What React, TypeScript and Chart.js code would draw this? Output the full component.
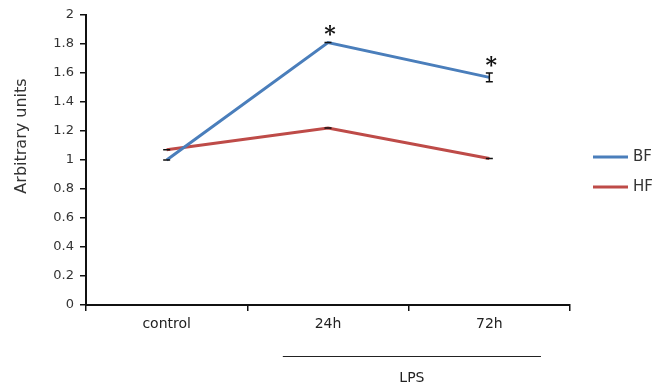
import React, { useEffect, useRef } from "react";
import { Chart, registerables } from "chart.js";

Chart.register(...registerables);

const categories = ["control", "24h", "72h"];
const seriesNames = ["BF", "HF"];
const bfValues = [1.0, 1.81, 1.57];
const hfValues = [1.07, 1.22, 1.01];
const bfErrors = [0, 0, 0.03];
const hfErrors = [0, 0, 0];
const bfMarks = ["", "*", "*"];
const hfMarks = ["", "", ""];
const yTickLabels = ["0", "0.2", "0.4", "0.6", "0.8", "1", "1.2", "1.4", "1.6", "1.8", "2"];
const yTitle = "Arbitrary units";
const groupLabel = "LPS";
const groupRange = [0.72, 2.32];

const FONT = "'DejaVu Sans', Verdana, sans-serif";
const BLUE = "#4A7EBB";
const RED = "#BE4B48";

const extras = {
  id: "extras",
  afterDatasetsDraw(chart: any) {
    const ctx = chart.ctx;
    const x = chart.scales.x;
    const y = chart.scales.y;
    chart.data.datasets.forEach((ds: any) => {
      const errs: number[] = ds.errors;
      const marks: string[] = ds.marks;
      ds.data.forEach((v: number, i: number) => {
        const px = x.getPixelForValue(i);
        const top = y.getPixelForValue(v + errs[i]);
        const bot = y.getPixelForValue(v - errs[i]);
        ctx.save();
        ctx.strokeStyle = "#111";
        ctx.lineWidth = 1.5;
        ctx.beginPath();
        ctx.moveTo(px, top);
        ctx.lineTo(px, bot);
        ctx.moveTo(px - 3.5, top);
        ctx.lineTo(px + 3.5, top);
        ctx.moveTo(px - 3.5, bot);
        ctx.lineTo(px + 3.5, bot);
        ctx.stroke();
        if (marks[i]) {
          ctx.fillStyle = "#111";
          ctx.font = "bold 22px 'DejaVu Serif', 'Liberation Serif', serif";
          ctx.textAlign = "center";
          ctx.textBaseline = "middle";
          ctx.fillText(marks[i], px + 2, top - 7);
        }
        ctx.restore();
      });
    });
  },
  afterDraw(chart: any) {
    const ctx = chart.ctx;
    const x = chart.scales.x;
    ctx.save();
    // y title
    ctx.fillStyle = "#333";
    ctx.font = `16px ${FONT}`;
    ctx.textAlign = "center";
    ctx.textBaseline = "middle";
    ctx.translate(22, 136);
    ctx.rotate(-Math.PI / 2);
    ctx.fillText(yTitle, 0, 0);
    ctx.restore();

    // LPS group line
    ctx.save();
    const x0 = x.getPixelForValue(groupRange[0]);
    const x1 = x.getPixelForValue(groupRange[1]);
    ctx.strokeStyle = "#222";
    ctx.lineWidth = 1;
    ctx.beginPath();
    ctx.moveTo(x0, 356.5);
    ctx.lineTo(x1, 356.5);
    ctx.stroke();
    ctx.fillStyle = "#222";
    ctx.font = `14px ${FONT}`;
    ctx.textAlign = "center";
    ctx.textBaseline = "middle";
    ctx.fillText(groupLabel, (x0 + x1) / 2, 378);
    ctx.restore();

    // legend
    ctx.save();
    chart.data.datasets.forEach((ds: any, i: number) => {
      const ly = 157 + i * 30;
      ctx.strokeStyle = ds.borderColor;
      ctx.lineWidth = 3;
      ctx.beginPath();
      ctx.moveTo(593, ly);
      ctx.lineTo(628, ly);
      ctx.stroke();
      ctx.fillStyle = "#333";
      ctx.font = `15px ${FONT}`;
      ctx.textAlign = "left";
      ctx.textBaseline = "middle";
      ctx.fillText(ds.label, 633, ly);
    });
    ctx.restore();
  },
};

export default function App() {
  const ref = useRef<HTMLCanvasElement | null>(null);
  useEffect(() => {
    if (!ref.current) return;
    const chart = new Chart(ref.current, {
      type: "line",
      data: {
        labels: categories,
        datasets: [
          {
            label: seriesNames[0],
            data: bfValues,
            borderColor: BLUE,
            backgroundColor: BLUE,
            borderWidth: 3,
            pointRadius: 0,
            tension: 0,
            errors: bfErrors,
            marks: bfMarks,
          } as any,
          {
            label: seriesNames[1],
            data: hfValues,
            borderColor: RED,
            backgroundColor: RED,
            borderWidth: 3,
            pointRadius: 0,
            tension: 0,
            errors: hfErrors,
            marks: hfMarks,
          } as any,
        ],
      },
      options: {
        responsive: false,
        animation: false,
        layout: { padding: { top: 15, right: 86, bottom: 0, left: 0 } },
        plugins: { legend: { display: false }, tooltip: { enabled: false } },
        scales: {
          x: {
            type: "category",
            offset: true,
            grid: {
              display: true,
              drawOnChartArea: false,
              offset: true,
              tickLength: 6,
              color: "#111",
              lineWidth: 1.5,
            },
            border: { display: true, color: "#111", width: 2 },
            ticks: { color: "#222", font: { family: FONT, size: 14 }, padding: 5 },
            afterFit: (s: any) => {
              s.height = 82;
            },
          },
          y: {
            min: 0,
            max: 2,
            grid: {
              display: true,
              drawOnChartArea: false,
              tickLength: 6,
              color: "#111",
              lineWidth: 1.5,
            },
            border: { display: true, color: "#111", width: 2 },
            ticks: {
              stepSize: 0.2,
              color: "#333",
              font: { family: FONT, size: 13 },
              padding: 6,
              callback: (_v: any, i: number) => yTickLabels[i],
            },
            afterFit: (s: any) => {
              s.width = 86;
            },
          },
        },
      },
      plugins: [extras],
    });
    return () => chart.destroy();
  }, []);
  return (
    <div style={{ position: "absolute", left: 0, top: 0, width: 656, height: 387, background: "#fff" }}>
      <canvas ref={ref} width={656} height={387} />
    </div>
  );
}
